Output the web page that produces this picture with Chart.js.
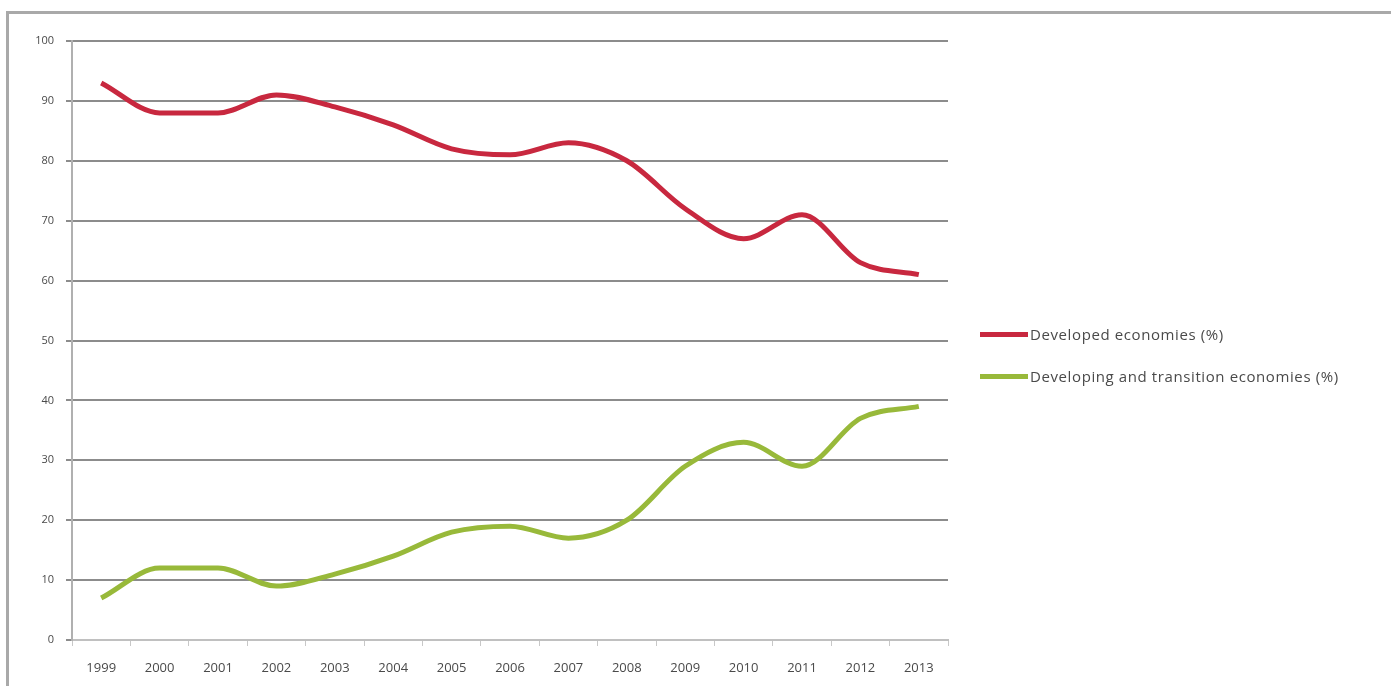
<!DOCTYPE html>
<html>
<head>
<meta charset="utf-8">
<script src="https://cdn.jsdelivr.net/npm/chart.js@4.4.1/dist/chart.umd.min.js"></script>
<style>
  html, body { margin: 0; padding: 0; background: #fff; }
  #wrap { position: relative; width: 1391px; height: 686px; overflow: hidden; }
  #frame { position: absolute; left: 6px; top: 11px; right: 0; bottom: 0;
           border-top: 3px solid #a9a9a9; border-left: 3px solid #a9a9a9; }
  #chart { position: absolute; left: 0; top: 0; }
  #legend { position: absolute; left: 980px; top: 313px; font-family: "Open Sans", "Liberation Sans", sans-serif;
            font-size: 15px; letter-spacing: 0.6px; color: #4a4a4a; }
  .item { display: flex; align-items: center; height: 42px; margin: 0; }
  .swatch { width: 48px; height: 5px; margin-right: 2px; }
</style>
</head>
<body>
<div id="wrap">
  <div id="frame"></div>
  <canvas id="chart" width="1391" height="686"></canvas>
  <div id="legend"></div>
</div>
<script>
// chart data
const years = ["1999", "2000", "2001", "2002", "2003", "2004", "2005", "2006",
               "2007", "2008", "2009", "2010", "2011", "2012", "2013"];
const developed = [93, 88, 88, 91, 89, 86, 82, 81, 83, 80, 72, 67, 71, 63, 61];
const developing = [7, 12, 12, 9, 11, 14, 18, 19, 17, 20, 29, 33, 29, 37, 39];
const seriesNames = ["Developed economies (%)", "Developing and transition economies (%)"];
const seriesColors = ["#c8283f", "#98b93a"];

const fontFamily = "'Open Sans', 'Liberation Sans', sans-serif";

const chart = new Chart(document.getElementById("chart").getContext("2d"), {
  type: "line",
  data: {
    labels: years,
    datasets: [
      { label: seriesNames[0], data: developed, borderColor: seriesColors[0], backgroundColor: seriesColors[0] },
      { label: seriesNames[1], data: developing, borderColor: seriesColors[1], backgroundColor: seriesColors[1] },
    ].map(ds => Object.assign(ds, { borderWidth: 5, pointRadius: 0, cubicInterpolationMode: "monotone", fill: false })),
  },
  options: {
    responsive: false,
    animation: false,
    layout: { padding: { top: 41, right: 443, left: 0, bottom: 0 } },
    plugins: { legend: { display: false }, tooltip: { enabled: false } },
    scales: {
      x: {
        offset: true,
        afterFit: (scale) => { scale.height = 46; },
        grid: { offset: true, drawOnChartArea: false, tickLength: 6, color: "#c8c8c8" },
        border: { color: "#c0c0c0", width: 2 },
        ticks: { font: { family: fontFamily, size: 13 }, color: "#4a4a4a", padding: 14, maxRotation: 0, autoSkip: false },
      },
      y: {
        min: 0,
        max: 100,
        afterFit: (scale) => { scale.width = 72; },
        grid: { color: "#8c8c8c", lineWidth: 2, tickLength: 6 },
        border: { color: "#b0b0b0", width: 2 },
        ticks: { stepSize: 10, font: { family: fontFamily, size: 11 }, color: "#4a4a4a", padding: 12 },
      },
    },
  },
});

// html legend with line swatches, like the original
const legend = document.getElementById("legend");
chart.data.datasets.forEach((ds) => {
  const row = document.createElement("div");
  row.className = "item";
  row.innerHTML = `<span class="swatch" style="background:${ds.borderColor}"></span><span>${ds.label}</span>`;
  legend.appendChild(row);
});
</script>
</body>
</html>
